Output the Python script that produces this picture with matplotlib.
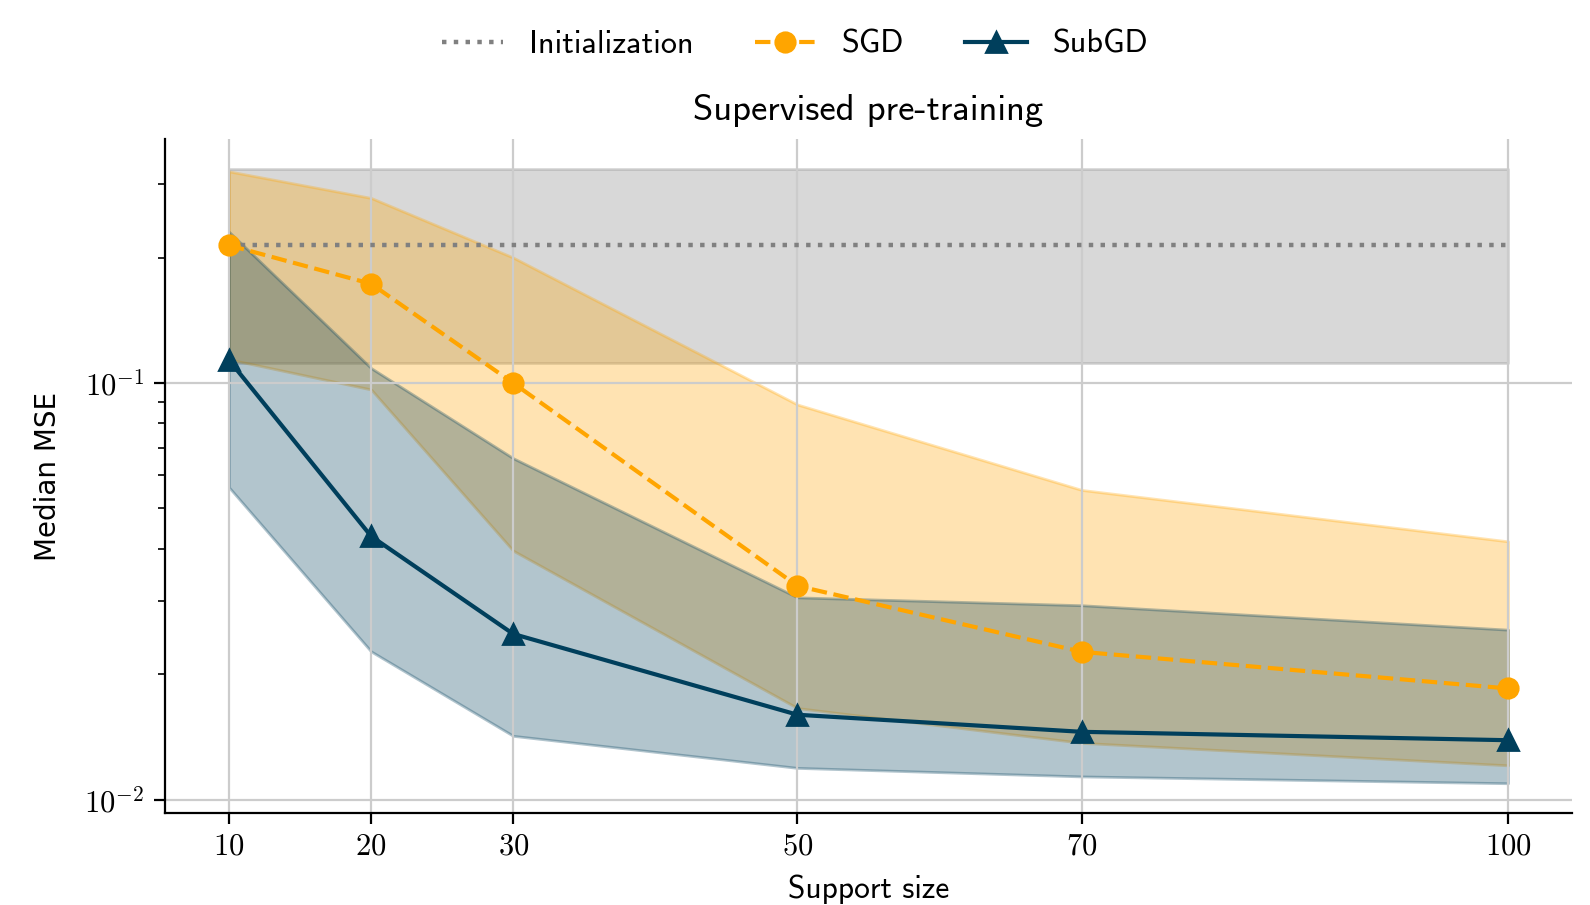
import numpy as np
import matplotlib
matplotlib.use('Agg')
import matplotlib.pyplot as plt

plt.rcParams['font.family'] = ['cmss10', 'DejaVu Sans']
plt.rcParams['mathtext.fontset'] = 'cm'
plt.rcParams['axes.unicode_minus'] = False

# data
support = [10, 20, 30, 50, 70, 100]
xtick_labels = ['$10$', '$20$', '$30$', '$50$', '$70$', '$100$']

init_median = 0.214
init_low = 0.1117
init_high = 0.3254

sgd_median = [0.214, 0.173, 0.100, 0.0326, 0.02265, 0.0185]
sgd_low = [0.114, 0.0965, 0.0396, 0.0166, 0.0137, 0.0121]
sgd_high = [0.322, 0.278, 0.200, 0.0888, 0.0554, 0.0417]

subgd_median = [0.1135, 0.0429, 0.0250, 0.0160, 0.01456, 0.0139]
subgd_low = [0.0562, 0.0227, 0.01424, 0.01193, 0.01138, 0.01096]
subgd_high = [0.2306, 0.1086, 0.066, 0.0306, 0.0293, 0.0256]

orange = '#FFA500'
navy = '#003f5c'

fig = plt.figure(figsize=(7.95, 4.525), dpi=200)
ax = fig.add_axes([0.1038, 0.1017, 0.8849, 0.7447])

# bands
x_init = [support[0], support[-1]]
ax.fill_between(x_init, [init_low] * 2, [init_high] * 2, color='gray', alpha=0.3)
ax.fill_between(support, sgd_low, sgd_high, color=orange, alpha=0.3)
ax.fill_between(support, subgd_low, subgd_high, color=navy, alpha=0.3)

# lines
ax.plot(x_init, [init_median] * 2, ':', color='gray', lw=1.6, label='Initialization')
ax.plot(support, sgd_median, '--o', color=orange, lw=1.5, ms=7, label='SGD')
ax.plot(support, subgd_median, '-^', color=navy, lw=1.5, ms=7, label='SubGD')

ax.set_yscale('log')
ax.set_xlim(5.5, 104.5)
ax.set_ylim(0.0093, 0.385)
ax.set_xticks(support)
ax.set_xticklabels(xtick_labels)
ax.set_yticks([0.01, 0.1])
ax.set_yticklabels(['$10^{-2}$', '$10^{-1}$'])
ax.tick_params(axis='both', labelsize=11, length=4)
ax.tick_params(axis='y', which='minor', length=2.5)

ax.grid(True, which='major', color='#cccccc', lw=0.8)
ax.spines['top'].set_visible(False)
ax.spines['right'].set_visible(False)

ax.set_title('Supervised pre-training', fontsize=13.2, pad=7)
ax.set_xlabel('Support size', fontsize=11.3, labelpad=5)
ax.set_ylabel('Median MSE', fontsize=10, family='DejaVu Sans', labelpad=8)

fig.legend(loc='upper center', ncol=3, frameon=False, fontsize=11.6,
           bbox_to_anchor=(0.5, 0.999), columnspacing=1.9, handlelength=1.9)

fig.savefig('out.png', dpi=200)
